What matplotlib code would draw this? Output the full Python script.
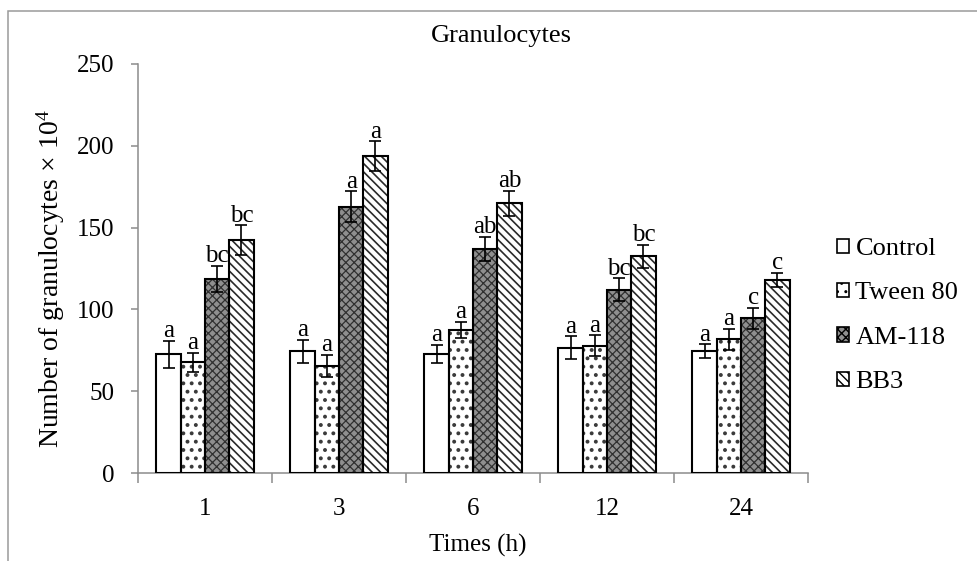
import numpy as np
import matplotlib
matplotlib.use("Agg")
import matplotlib.pyplot as plt
from matplotlib.patches import Patch, Rectangle

plt.rcParams['font.family'] = ['Liberation Serif', 'DejaVu Serif']
plt.rcParams['mathtext.fontset'] = 'custom'
plt.rcParams['mathtext.rm'] = 'Liberation Serif'
plt.rcParams['mathtext.it'] = 'Liberation Serif:italic'

times = ['1', '3', '6', '12', '24']
groups = ['Control', 'Tween 80', 'AM-118', 'BB3']

control = [72.5, 74.5, 72.7, 76.6, 74.6]
tween80 = [67.6, 65.6, 87.4, 77.8, 81.7]
am118 = [118.6, 162.8, 136.9, 111.9, 94.5]
bb3 = [142.4, 193.8, 164.8, 132.6, 118.0]

control_err = [8.4, 7.0, 5.6, 7.0, 4.2]
tween80_err = [6.0, 6.8, 5.0, 6.3, 6.4]
am118_err = [8.2, 9.4, 7.6, 7.0, 6.5]
bb3_err = [9.0, 8.9, 7.8, 7.0, 4.3]

control_lbl = ['a', 'a', 'a', 'a', 'a']
tween80_lbl = ['a', 'a', 'a', 'a', 'a']
am118_lbl = ['bc', 'a', 'ab', 'bc', 'c']
bb3_lbl = ['bc', 'a', 'ab', 'bc', 'c']

values = [control, tween80, am118, bb3]
errors = [control_err, tween80_err, am118_err, bb3_err]
letters = [control_lbl, tween80_lbl, am118_lbl, bb3_lbl]

# face, hatch, hatch colour, hatch linewidth
styles = [
    ('white', '', 'black', 1.0),
    ('white', '..', '#3a3a3a', 1.6),
    ('#8f8f8f', 'xxxx', '#303030', 0.9),
    ('white', '\\\\\\\\', '#2a2a2a', 1.2),
]

fig = plt.figure(figsize=(9.78, 5.61), dpi=100)
ax = fig.add_axes([138 / 978, 1 - 473 / 561, 670 / 978, 409 / 561])

x = np.arange(len(times))
w = 0.1815
for i, (vals, errs, lbls) in enumerate(zip(values, errors, letters)):
    face, hatch, hcol, hlw = styles[i]
    pos = x + (i - 1.5) * w
    with plt.rc_context({'hatch.linewidth': hlw}):
        bars = ax.bar(pos, vals, w, color=face, edgecolor=hcol,
                      linewidth=0, hatch=hatch, zorder=2)
        for b in bars:
            if hasattr(b, 'set_hatch_linewidth'):
                b.set_hatch_linewidth(hlw)
    ax.bar(pos, vals, w, fill=False, edgecolor='black', linewidth=1.5, zorder=3)
    ax.errorbar(pos, vals, yerr=errs, fmt='none', ecolor='black',
                elinewidth=1.2, capsize=4.5, capthick=1.2, zorder=4)
    for px, v, e, t in zip(pos, vals, errs, lbls):
        ax.annotate(t, (px, v + e), xytext=(0, 2.5), textcoords='offset points',
                    ha='center', va='baseline', fontsize=18, zorder=5)

ax.set_xlim(-0.5, len(times) - 0.5)
ax.set_ylim(0, 250)
ax.set_yticks(np.arange(0, 251, 50))
ax.set_xticks(x)
ax.set_xticklabels(times)
ax.set_xticks(np.arange(-0.5, len(times), 1.0), minor=True)
ax.tick_params(axis='x', which='major', length=0, pad=18, labelsize=18)
ax.tick_params(axis='x', which='minor', length=7, width=1.1, color='#8c8c8c',
               direction='out')
ax.tick_params(axis='y', length=5, width=1.1, color='#8c8c8c', pad=12,
               labelsize=18)
for s in ['top', 'right']:
    ax.spines[s].set_visible(False)
for s in ['left', 'bottom']:
    ax.spines[s].set_color('#8c8c8c')
    ax.spines[s].set_linewidth(1.1)

fig.text(501 / 978, 1 - 36 / 561, 'Granulocytes', ha='center', va='center',
         fontsize=19)
fig.text(478 / 978, 1 - 545 / 561, 'Times (h)', ha='center', va='center',
         fontsize=18)
fig.text(51 / 978, 1 - 279 / 561, r'Number of granulocytes × 10$^{4}$',
         rotation=90, ha='center', va='center', fontsize=20)

handles = [Patch(facecolor=s[0], edgecolor='black', hatch=s[1], linewidth=1.2)
           for s in styles]
fig.legend(handles, groups, loc='upper left',
           bbox_to_anchor=(837 / 978, 1 - 238 / 561), frameon=False,
           fontsize=19, handlelength=0.45, handleheight=0.45,
           handletextpad=0.25, labelspacing=0.85, borderaxespad=0,
           borderpad=0)

# outer frame of the original figure
fig.patches.append(Rectangle((8 / 978, -0.1), 1.2, 1.1 - 11 / 561,
                             transform=fig.transFigure, fill=False,
                             edgecolor='#9a9a9a', linewidth=1.1))

fig.savefig('out.png', dpi=100)
